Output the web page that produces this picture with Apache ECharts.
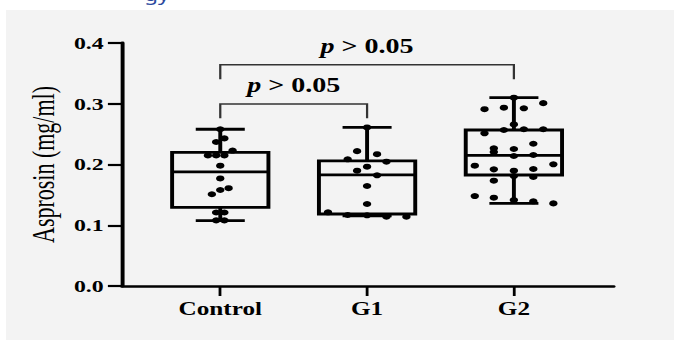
<!DOCTYPE html>
<html>
<head>
<meta charset="utf-8">
<script src="https://cdn.jsdelivr.net/npm/echarts@6/dist/echarts.min.js"></script>
<style>
  html, body { margin: 0; padding: 0; background: #fff; overflow: hidden; }
  /* the source picture is stretched sideways, so draw narrow and stretch */
  #main { width: 481px; height: 340px; transform: scaleX(1.4012); transform-origin: 0 0; }
</style>
</head>
<body>
<div id="main"></div>
<script>
const categories = ['Control', 'G1', 'G2'];
const yTicks = [0, 0.1, 0.2, 0.3, 0.4];

// [min, Q1, median, Q3, max]
const controlBox = [0.1075, 0.1295, 0.1877, 0.220, 0.258];
const g1Box = [0.1155, 0.1185, 0.183, 0.206, 0.261];
const g2Box = [0.136, 0.1827, 0.2151, 0.2568, 0.310];

// dots: horizontal jitter (category units) and value
const controlX = [0, -0.028, 0.028, -0.084, -0.028, 0.028, 0.084, 0, 0, 0, 0.057, -0.057, -0.028, 0.028, -0.028, 0.028];
const controlY = [0.258, 0.237, 0.243, 0.215, 0.215, 0.215, 0.223, 0.198, 0.177, 0.158, 0.161, 0.151, 0.121, 0.121, 0.108, 0.108];
const g1X = [0, -0.068, 0.068, -0.132, 0.132, 0, -0.068, 0.068, 0, 0, -0.266, -0.132, 0, 0.132, 0.268];
const g1Y = [0.261, 0.222, 0.217, 0.2085, 0.2046, 0.1964, 0.1898, 0.1822, 0.1646, 0.135, 0.1213, 0.1169, 0.1164, 0.1141, 0.1141];
const g2X = [0, 0.2, -0.2, -0.068, 0.068, 0, -0.2, -0.068, 0.068, 0.2, -0.1365, -0.1365, 0, 0.1325, 0, 0.1325, -0.266, 0.269, -0.1365, 0, 0.1325, 0, 0.1325, -0.1365, -0.266, -0.1365, 0, 0.1325, 0.269];
const g2Y = [0.310, 0.301, 0.291, 0.2935, 0.2925, 0.266, 0.2513, 0.2568, 0.258, 0.258, 0.2266, 0.2206, 0.2255, 0.2342, 0.214, 0.2156, 0.198, 0.2003, 0.192, 0.1898, 0.1926, 0.181, 0.1794, 0.1733, 0.148, 0.1454, 0.1416, 0.1394, 0.136];

// significance brackets
const bracketFrom = [0, 0];
const bracketTo = [1, 2];
const bracketBarY = [0.2996, 0.3643];
const bracketLegY = [0.276, 0.3402];
const bracketLabels = ['p > 0.05', 'p > 0.05'];

const SERIF = '"Liberation Serif", "Times New Roman", serif';
const BOX_HALF = 0.328;
const CAP_HALF = 0.167;

const boxRows = [controlBox, g1Box, g2Box].map((b, i) => [i].concat(b));
const dots = [];
[[controlX, controlY], [g1X, g1Y], [g2X, g2Y]].forEach(([xs, ys], i) => {
  xs.forEach((dx, j) => dots.push([i + dx, ys[j]]));
});
const bracketRows = bracketFrom.map((f, i) => [f, bracketTo[i], bracketBarY[i], bracketLegY[i]]);

function line(p1, p2, width) {
  return {
    type: 'line',
    shape: { x1: p1[0], y1: p1[1], x2: p2[0], y2: p2[1] },
    style: { stroke: '#000', lineWidth: width },
  };
}

function renderBox(params, api) {
  const x = api.value(0);
  const [mn, q1, md, q3, mx] = [1, 2, 3, 4, 5].map((d) => api.value(d));
  const bl = api.coord([x - BOX_HALF, q1]);
  const tr = api.coord([x + BOX_HALF, q3]);
  const w = 2.8;
  return {
    type: 'group',
    children: [
      line(api.coord([x, q3]), api.coord([x, mx]), w),
      line(api.coord([x, q1]), api.coord([x, mn]), w),
      line(api.coord([x - CAP_HALF, mx]), api.coord([x + CAP_HALF, mx]), w),
      line(api.coord([x - CAP_HALF, mn]), api.coord([x + CAP_HALF, mn]), w),
      {
        type: 'rect',
        shape: { x: bl[0], y: tr[1], width: tr[0] - bl[0], height: bl[1] - tr[1] },
        style: { fill: 'none', stroke: '#000', lineWidth: w },
      },
      line(api.coord([x - BOX_HALF, md]), api.coord([x + BOX_HALF, md]), w),
    ],
  };
}

function renderBracket(params, api) {
  const a = api.coord([api.value(0), api.value(3)]);
  const b = api.coord([api.value(0), api.value(2)]);
  const c = api.coord([api.value(1), api.value(2)]);
  const d = api.coord([api.value(1), api.value(3)]);
  const label = bracketLabels[params.dataIndex].replace(/^p/, '');
  const txt = { fontFamily: SERIF, fontSize: 20, fontWeight: 'bold', fill: '#000' };
  return {
    type: 'group',
    children: [
      {
        type: 'polyline',
        shape: { points: [a, b, c, d] },
        style: { fill: 'none', stroke: '#333', lineWidth: 1.6 },
      },
      {
        type: 'text',
        style: {
          text: '{i|p}{n|' + label + '}',
          x: (b[0] + c[0]) / 2,
          y: b[1] - 19,
          align: 'center',
          verticalAlign: 'middle',
          rich: {
            i: Object.assign({}, txt, { fontStyle: 'italic' }),
            n: txt,
          },
        },
      },
    ],
  };
}

const chart = echarts.init(document.getElementById('main'), null, { renderer: 'svg' });
chart.setOption({
  backgroundColor: 'transparent',
  animation: false,
  graphic: [
    {
      type: 'rect',
      z: -10,
      shape: { x: 4.3, y: 10, width: 480, height: 330 },
      style: { fill: '#f3f3f3' },
    },
    {
      type: 'text',
      left: 103,
      top: -13,
      style: { text: 'gy', font: '16px "Noto Sans"', fill: '#2c4a9e' },
    },
  ],
  grid: { left: 87, right: 43, top: 43, bottom: 54 },
  xAxis: {
    type: 'value',
    min: -0.67,
    max: 2.68,
    splitLine: { show: false },
    axisLine: { show: true, onZero: false, lineStyle: { color: '#000', width: 2.6 } },
    axisTick: { show: true, customValues: [0, 1, 2], length: 10, lineStyle: { color: '#000', width: 2 } },
    axisLabel: {
      customValues: [0, 1, 2],
      formatter: (v) => categories[Math.round(v)],
      margin: 14,
      color: '#000',
      fontFamily: SERIF,
      fontWeight: 'bold',
      fontSize: 18,
    },
  },
  yAxis: {
    type: 'value',
    min: yTicks[0],
    max: yTicks[yTicks.length - 1],
    interval: 0.1,
    name: 'Asprosin (mg/ml)',
    nameLocation: 'middle',
    nameGap: 37,
    nameRotate: 90,
    nameTextStyle: { color: '#000', fontFamily: SERIF, fontSize: 22 },
    splitLine: { show: false },
    axisLine: { show: true, onZero: false, lineStyle: { color: '#000', width: 2.8 } },
    axisTick: { show: true, length: 10, lineStyle: { color: '#000', width: 2.2 } },
    axisLabel: {
      formatter: (v) => v.toFixed(1),
      margin: 13,
      color: '#000',
      fontFamily: SERIF,
      fontWeight: 'bold',
      fontSize: 17,
    },
  },
  series: [
    {
      type: 'custom',
      renderItem: renderBox,
      encode: { x: 0, y: [1, 2, 3, 4, 5] },
      data: boxRows,
      z: 2,
    },
    {
      type: 'scatter',
      data: dots,
      symbol: 'circle',
      symbolSize: 6,
      itemStyle: { color: '#000', opacity: 1 },
      z: 5,
    },
    {
      type: 'custom',
      renderItem: renderBracket,
      encode: { x: [0, 1], y: [2, 3] },
      data: bracketRows,
      z: 3,
    },
  ],
});
</script>
</body>
</html>
